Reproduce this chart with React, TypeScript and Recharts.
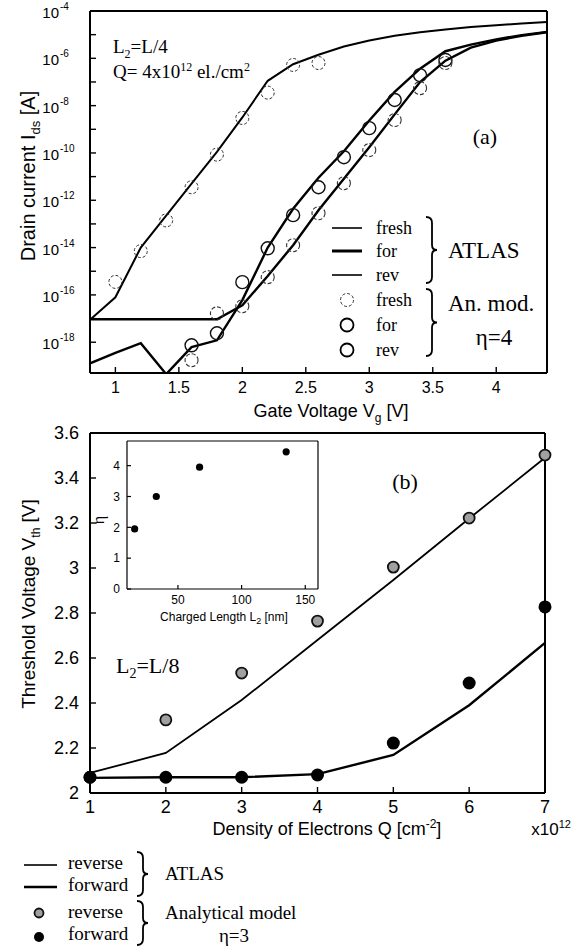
import {
  ComposedChart,
  Line,
  Scatter,
  XAxis,
  YAxis,
} from "recharts";

// ── (a) drain current vs gate voltage, values are log10(Ids [A]) ──────────────
const GATE_V = [0.8, 1.0, 1.2, 1.4, 1.6, 1.8, 2.0, 2.2, 2.4, 2.6, 2.8, 3.0, 3.2, 3.4, 3.6, 3.8, 4.0, 4.2, 4.4];
const FRESH_ATLAS = [-17.05, -16.1, -14.0, -12.65, -11.3, -9.95, -8.5, -6.95, -6.25, -5.85, -5.5, -5.25, -5.05, -4.9, -4.78, -4.68, -4.6, -4.53, -4.47];
const FOR_ATLAS = [-18.89, -18.45, -18.04, -19.35, -18.21, -17.92, -16.22, -14.0, -12.36, -11.05, -9.93, -8.63, -7.42, -6.44, -5.7, -5.42, -5.2, -5.02, -4.88];
const REV_ATLAS = [-17.03, -17.03, -17.03, -17.03, -17.03, -17.03, -16.44, -15.2, -13.9, -12.42, -11.09, -9.76, -8.37, -7.0, -6.1, -5.55, -5.25, -5.05, -4.9];

const FRESH_MODEL_V = [1.0, 1.2, 1.4, 1.6, 1.8, 2.0, 2.2, 2.4, 2.6];
const FRESH_MODEL = [-15.45, -14.15, -12.85, -11.45, -10.07, -8.52, -7.45, -6.28, -6.2];
const STRESS_MODEL_V = [1.6, 1.8, 2.0, 2.2, 2.4, 2.6, 2.8, 3.0, 3.2, 3.4, 3.6];
const FOR_MODEL = [-18.13, -17.62, -15.46, -14.03, -12.63, -11.45, -10.18, -8.95, -7.76, -6.71, -6.07];
const REV_MODEL = [-18.76, -16.78, -16.48, -15.25, -13.9, -12.55, -11.28, -9.88, -8.61, -7.26, -6.2];

const VG_TICKS = [1, 1.5, 2, 2.5, 3, 3.5, 4];
const DECADES = [-4, -5, -6, -7, -8, -9, -10, -11, -12, -13, -14, -15, -16, -17, -18];

// ── (b) threshold voltage vs electron density ────────────────────────────────
const Q_DENSITY = [1, 2, 3, 4, 5, 6, 7];
const REVERSE_ATLAS = [2.089, 2.178, 2.413, 2.68, 2.947, 3.22, 3.49];
const FORWARD_ATLAS = [2.067, 2.07, 2.07, 2.084, 2.169, 2.39, 2.667];
const REVERSE_MODEL = [2.07, 2.325, 2.533, 2.764, 3.004, 3.222, 3.502];
const FORWARD_MODEL = [2.07, 2.07, 2.07, 2.08, 2.222, 2.489, 2.827];
const VTH_TICKS = [2, 2.2, 2.4, 2.6, 2.8, 3, 3.2, 3.4, 3.6];

// ── inset: eta vs charged length ─────────────────────────────────────────────
const CHARGED_LENGTH = [16, 33, 67, 135];
const ETA = [1.95, 3.0, 3.95, 4.45];
const LEN_TICKS = [50, 100, 150];
const ETA_TICKS = [0, 1, 2, 3, 4];

const SANS = "'Liberation Sans', Arial, sans-serif";
const SERIF = "'Liberation Serif', 'Times New Roman', serif";

const ids = (vs: number[], logs: number[]) => vs.map((v, k) => ({ v, i: Math.pow(10, logs[k]) }));
const vth = (ys: number[]) => Q_DENSITY.map((q, k) => ({ q, vth: ys[k] }));

const axisLine = { stroke: "#000", strokeWidth: 2 };
const tickLine = { stroke: "#000", strokeWidth: 1.4 };

// power-of-ten labels, "10" right-aligned in a fixed column left of the axis
const POW_LABEL_X = 59;
function PowTick(props: any) {
  const { y, payload } = props;
  const e = Math.round(Math.log10(payload.value));
  if (e % 2 !== 0) return <g />;
  return (
    <g fontFamily={SANS} fill="#000">
      <text x={POW_LABEL_X} y={y + 7} textAnchor="end" fontSize={15}>10</text>
      <text x={POW_LABEL_X + 1} y={y - 1} textAnchor="start" fontSize={10}>{e}</text>
    </g>
  );
}

const circle = (r: number, style: any) => (p: any) => <circle cx={p.cx} cy={p.cy} r={r} {...style} />;

function brace(x: number, y1: number, y2: number) {
  const m = (y1 + y2) / 2;
  return `M${x - 4},${y1} Q${x + 2},${y1} ${x + 2},${y1 + 6} L${x + 2},${m - 5} Q${x + 2},${m} ${x + 7},${m} Q${x + 2},${m} ${x + 2},${m + 5} L${x + 2},${y2 - 6} Q${x + 2},${y2} ${x - 4},${y2}`;
}

function ChartA() {
  return (
    <ComposedChart width={572} height={403} margin={{ top: 0, right: 0, bottom: 0, left: 0 }}>
      <XAxis
        dataKey="v"
        type="number"
        domain={[0.8, 4.4]}
        ticks={VG_TICKS}
        height={30}
        tickSize={-6}
        tickMargin={15}
        axisLine={axisLine}
        tickLine={tickLine}
        tick={{ fontSize: 16, fill: "#000", fontFamily: SANS }}
        allowDataOverflow
      />
      <XAxis xAxisId="top" orientation="top" type="number" domain={[0.8, 4.4]} ticks={VG_TICKS} height={11} tickSize={-6} axisLine={axisLine} tickLine={tickLine} tick={false} />
      <YAxis
        dataKey="i"
        type="number"
        scale="log"
        domain={[5e-20, 1e-4]}
        ticks={DECADES.map((d) => Math.pow(10, d))}
        width={90}
        tickSize={-6}
        tickMargin={37}
        axisLine={axisLine}
        tickLine={tickLine}
        tick={<PowTick />}
        allowDataOverflow
      />
      <YAxis yAxisId="right" orientation="right" type="number" domain={[-19.3, -4]} ticks={DECADES} width={25} tickSize={-6} axisLine={axisLine} tickLine={tickLine} tick={false} />
      <Line data={ids(GATE_V, FRESH_ATLAS)} dataKey="i" stroke="#000" strokeWidth={2} dot={false} isAnimationActive={false} />
      <Line data={ids(GATE_V, FOR_ATLAS)} dataKey="i" stroke="#000" strokeWidth={2.4} dot={false} isAnimationActive={false} />
      <Line data={ids(GATE_V, REV_ATLAS)} dataKey="i" stroke="#000" strokeWidth={2.4} dot={false} isAnimationActive={false} />
      <Scatter data={ids(FRESH_MODEL_V, FRESH_MODEL)} dataKey="i" isAnimationActive={false}
        shape={circle(6.5, { fill: "none", stroke: "#333", strokeWidth: 1, strokeDasharray: "3 2" })} />
      <Scatter data={ids(STRESS_MODEL_V, FOR_MODEL)} dataKey="i" isAnimationActive={false}
        shape={circle(6.5, { fill: "none", stroke: "#111", strokeWidth: 1.4 })} />
      <Scatter data={ids(STRESS_MODEL_V, REV_MODEL)} dataKey="i" isAnimationActive={false}
        shape={circle(6.5, { fill: "none", stroke: "#333", strokeWidth: 1.1, strokeDasharray: "4 2" })} />
    </ComposedChart>
  );
}

function ChartB() {
  return (
    <ComposedChart width={572} height={403} margin={{ top: 0, right: 0, bottom: 0, left: 0 }}>
      <XAxis
        dataKey="q"
        type="number"
        domain={[1, 7]}
        ticks={Q_DENSITY}
        height={30}
        tickSize={-6}
        tickMargin={13}
        axisLine={axisLine}
        tickLine={tickLine}
        tick={{ fontSize: 18, fill: "#000", fontFamily: SANS }}
      />
      <XAxis xAxisId="top" orientation="top" type="number" domain={[1, 7]} ticks={Q_DENSITY} height={13} tickSize={-6} axisLine={axisLine} tickLine={tickLine} tick={false} />
      <YAxis
        dataKey="vth"
        type="number"
        domain={[2, 3.6]}
        ticks={VTH_TICKS}
        width={90}
        tickSize={-6}
        tickMargin={17}
        axisLine={axisLine}
        tickLine={tickLine}
        tickFormatter={(v: number) => String(Math.round(v * 10) / 10)}
        tick={{ fontSize: 18, fill: "#000", fontFamily: SANS }}
      />
      <YAxis yAxisId="right" orientation="right" type="number" domain={[2, 3.6]} ticks={VTH_TICKS} width={27} tickSize={-6} axisLine={axisLine} tickLine={tickLine} tick={false} />
      <Line data={vth(REVERSE_ATLAS)} dataKey="vth" stroke="#000" strokeWidth={1.8} dot={false} isAnimationActive={false} />
      <Line data={vth(FORWARD_ATLAS)} dataKey="vth" stroke="#000" strokeWidth={2.4} dot={false} isAnimationActive={false} />
      <Scatter data={vth(REVERSE_MODEL)} dataKey="vth" isAnimationActive={false}
        shape={circle(5.5, { fill: "#a0a0a0", stroke: "#111", strokeWidth: 1.8 })} />
      <Scatter data={vth(FORWARD_MODEL)} dataKey="vth" isAnimationActive={false}
        shape={circle(6.5, { fill: "#000" })} />
    </ComposedChart>
  );
}

function Inset() {
  const thin = { stroke: "#000", strokeWidth: 1.2 };
  return (
    <ComposedChart width={228} height={175} margin={{ top: 0, right: 0, bottom: 0, left: 0 }}>
      <XAxis dataKey="len" type="number" domain={[10, 160]} ticks={LEN_TICKS} height={22} tickSize={-4} tickMargin={10}
        axisLine={thin} tickLine={thin} tick={{ fontSize: 12, fill: "#000", fontFamily: SANS }} />
      <XAxis xAxisId="top" orientation="top" type="number" domain={[10, 160]} ticks={LEN_TICKS} height={5} tickSize={-4}
        axisLine={thin} tickLine={thin} tick={false} />
      <YAxis dataKey="eta" type="number" domain={[0, 4.8]} ticks={ETA_TICKS} width={32} tickSize={-4} tickMargin={11}
        axisLine={thin} tickLine={thin} tick={{ fontSize: 12, fill: "#000", fontFamily: SANS }} />
      <YAxis yAxisId="right" orientation="right" type="number" domain={[0, 4.8]} ticks={ETA_TICKS} width={5} tickSize={-4}
        axisLine={thin} tickLine={thin} tick={false} />
      <Scatter data={CHARGED_LENGTH.map((len, k) => ({ len, eta: ETA[k] }))} dataKey="eta" isAnimationActive={false}
        shape={circle(3.6, { fill: "#000" })} />
    </ComposedChart>
  );
}

function Overlay() {
  const t = { fontFamily: SERIF, fill: "#000" };
  return (
    <svg width={572} height={947} style={{ position: "absolute", left: 0, top: 0, pointerEvents: "none" }}>
      {/* (a) annotations */}
      <text x={113} y={53} fontSize={19} {...t}>L<tspan dy={5} fontSize={12}>2</tspan><tspan dy={-5}>=L/4</tspan></text>
      <text x={113} y={78} fontSize={19} {...t}>Q= 4x10<tspan dy={-7} fontSize={12}>12</tspan><tspan dy={7}> el./cm</tspan><tspan dy={-7} fontSize={12}>2</tspan></text>
      <text x={485} y={144} fontSize={22} textAnchor="middle" {...t}>(a)</text>
      <text transform="translate(35,176) rotate(-90)" textAnchor="middle" fontFamily={SANS} fontSize={20}>
        Drain current I<tspan dy={5} fontSize={13}>ds</tspan><tspan dy={-5}> [A]</tspan>
      </text>
      <text x={331} y={417} textAnchor="middle" fontFamily={SANS} fontSize={18}>
        Gate Voltage V<tspan dy={5} fontSize={12}>g</tspan><tspan dy={-5}> [V]</tspan>
      </text>

      {/* (a) legend */}
      <line x1={332} x2={362} y1={228} y2={228} stroke="#333" strokeWidth={2} />
      <line x1={332} x2={362} y1={251} y2={251} stroke="#000" strokeWidth={3} />
      <line x1={332} x2={362} y1={275} y2={275} stroke="#333" strokeWidth={2} />
      <text x={376} y={234} fontSize={18} {...t}>fresh</text>
      <text x={376} y={257} fontSize={18} {...t}>for</text>
      <text x={376} y={281} fontSize={18} {...t}>rev</text>
      <circle cx={347} cy={300} r={6.5} fill="none" stroke="#333" strokeWidth={1} strokeDasharray="3 2" />
      <circle cx={347} cy={325} r={6.5} fill="none" stroke="#000" strokeWidth={1.8} />
      <circle cx={347} cy={350} r={6.5} fill="none" stroke="#000" strokeWidth={1.8} />
      <text x={376} y={306} fontSize={18} {...t}>fresh</text>
      <text x={376} y={331} fontSize={18} {...t}>for</text>
      <text x={376} y={356} fontSize={18} {...t}>rev</text>
      <path d={brace(430, 217, 283)} fill="none" stroke="#000" strokeWidth={1.8} />
      <path d={brace(430, 289, 356)} fill="none" stroke="#000" strokeWidth={1.8} />
      <text x={448} y={258} fontSize={23} {...t}>ATLAS</text>
      <text x={448} y={311} fontSize={23} {...t}>An. mod.</text>
      <text x={494} y={345} fontSize={23} textAnchor="middle" {...t}>η=4</text>

      {/* (b) annotations */}
      <text x={405} y={489} fontSize={22} textAnchor="middle" {...t}>(b)</text>
      <text x={116} y={673} fontSize={22} {...t}>L<tspan dy={5} fontSize={14}>2</tspan><tspan dy={-5}>=L/8</tspan></text>
      <text transform="translate(35,604) rotate(-90)" textAnchor="middle" fontFamily={SANS} fontSize={19}>
        Threshold Voltage V<tspan dy={5} fontSize={12}>th</tspan><tspan dy={-5}> [V]</tspan>
      </text>
      <text x={327} y={835} textAnchor="middle" fontFamily={SANS} fontSize={18}>
        Density of Electrons Q [cm<tspan dy={-7} fontSize={12}>-2</tspan><tspan dy={7}>]</tspan>
      </text>
      <text x={571} y={835} textAnchor="end" fontFamily={SANS} fontSize={17}>
        x10<tspan dy={-7} fontSize={11}>12</tspan>
      </text>
      <text transform="translate(104,520) rotate(-90)" textAnchor="middle" fontSize={16} {...t}>η</text>
      <text x={224} y={621} textAnchor="middle" fontFamily={SANS} fontSize={12}>
        Charged Length L<tspan dy={3} fontSize={9}>2</tspan><tspan dy={-3}>  [nm]</tspan>
      </text>

      {/* (b) legend */}
      <line x1={24} x2={57} y1={865} y2={865} stroke="#333" strokeWidth={1.8} />
      <line x1={24} x2={57} y1={887} y2={887} stroke="#000" strokeWidth={2.6} />
      <text x={68} y={869} fontSize={19} {...t}>reverse</text>
      <text x={68} y={891} fontSize={19} {...t}>forward</text>
      <path d={brace(141, 852, 896)} fill="none" stroke="#000" strokeWidth={1.8} />
      <text x={165} y={880} fontSize={19} {...t}>ATLAS</text>
      <circle cx={39} cy={913} r={4.5} fill="#a0a0a0" stroke="#111" strokeWidth={1.8} />
      <circle cx={39} cy={937} r={5} fill="#000" />
      <text x={68} y={918} fontSize={19} {...t}>reverse</text>
      <text x={68} y={940} fontSize={19} {...t}>forward</text>
      <path d={brace(141, 901, 945)} fill="none" stroke="#000" strokeWidth={1.8} />
      <text x={165} y={919} fontSize={19} {...t}>Analytical model</text>
      <text x={234} y={942} fontSize={19} textAnchor="middle" {...t}>η=3</text>
    </svg>
  );
}

export default function App() {
  return (
    <div style={{ position: "absolute", left: 0, top: 0, width: 572, height: 947, background: "#fff", overflow: "hidden" }}>
      <div style={{ position: "absolute", left: 0, top: 0 }}>
        <ChartA />
      </div>
      <div style={{ position: "absolute", left: 0, top: 420 }}>
        <ChartB />
      </div>
      <div style={{ position: "absolute", left: 95, top: 436 }}>
        <Inset />
      </div>
      <Overlay />
    </div>
  );
}
